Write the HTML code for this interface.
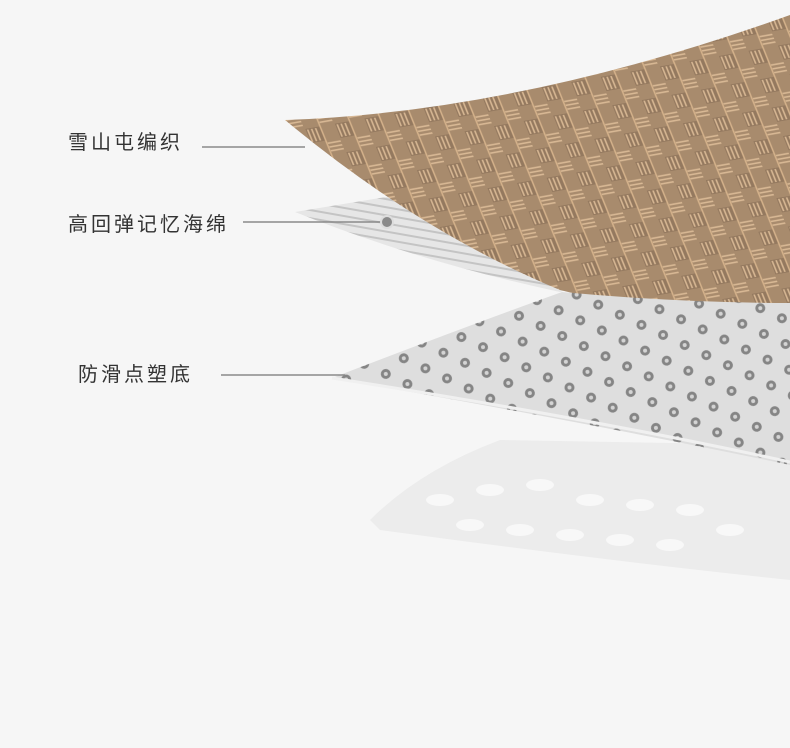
<!DOCTYPE html>
<html><head><meta charset="utf-8"><style>
html,body{margin:0;padding:0;background:#f6f6f6;}
.w{position:relative;width:790px;height:748px;overflow:hidden;background:#f6f6f6;font-family:"Liberation Sans","Noto Sans CJK SC",sans-serif;}
.t{position:absolute;font-size:20px;color:#333;letter-spacing:3px;line-height:24px;}
</style></head><body><div class="w">
<svg width="790" height="748" style="position:absolute;left:0;top:0">
<defs>
<pattern id="br" width="30" height="30" patternUnits="userSpaceOnUse" patternTransform="rotate(-10) skewX(12)">
<rect width="30" height="30" fill="#a88b6d"/>
<rect x="0" y="0" width="15" height="15" fill="#94795f"/>
<g stroke="#d8b894" stroke-width="1.6">
<line x1="2" y1="1" x2="2" y2="14"/><line x1="6" y1="1" x2="6" y2="14"/><line x1="10" y1="1" x2="10" y2="14"/>
<line x1="16" y1="18" x2="29" y2="18"/><line x1="16" y1="22" x2="29" y2="22"/><line x1="16" y1="26" x2="29" y2="26"/>
</g>
<line x1="15" y1="0" x2="15" y2="30" stroke="#d6b38c" stroke-width="1.5"/>
</pattern>
<pattern id="dt" width="40" height="26" patternUnits="userSpaceOnUse" patternTransform="rotate(-8)">
<rect width="40" height="26" fill="#dedede"/>
<circle cx="10" cy="8" r="5" fill="#858585"/><circle cx="10" cy="8" r="2" fill="#d4d4d4"/>
<circle cx="30" cy="21" r="5" fill="#858585"/><circle cx="30" cy="21" r="2" fill="#d4d4d4"/>
</pattern>
<pattern id="fm" width="8" height="8" patternUnits="userSpaceOnUse" patternTransform="rotate(10)">
<rect width="8" height="8" fill="#e6e6e6"/><rect width="8" height="2" fill="#c4c4c4"/>
</pattern>
</defs>
<path d="M370,520 Q420,470 500,440 L790,445 L790,580 Q600,560 380,530 Z" fill="#ececec"/>
<g fill="#f8f8f8">
<ellipse cx="440" cy="500" rx="14" ry="6"/><ellipse cx="490" cy="490" rx="14" ry="6"/><ellipse cx="540" cy="485" rx="14" ry="6"/>
<ellipse cx="590" cy="500" rx="14" ry="6"/><ellipse cx="640" cy="505" rx="14" ry="6"/><ellipse cx="690" cy="510" rx="14" ry="6"/>
<ellipse cx="470" cy="525" rx="14" ry="6"/><ellipse cx="520" cy="530" rx="14" ry="6"/><ellipse cx="570" cy="535" rx="14" ry="6"/>
<ellipse cx="620" cy="540" rx="14" ry="6"/><ellipse cx="670" cy="545" rx="14" ry="6"/><ellipse cx="730" cy="530" rx="14" ry="6"/>
</g>
<path d="M295,212 L392,196 Q500,235 610,275 L560,292 Q420,262 295,212 Z" fill="url(#fm)"/>
<path d="M285,120 Q520,112 790,15 L790,332 Q660,315 560,290 Q420,232 285,120 Z" fill="url(#br)"/>
<path d="M332,378 Q470,325 562,292 Q680,303 790,303 L790,465 Q600,425 332,378 Z" fill="url(#dt)"/>
<path d="M332,378 Q600,420 790,462" stroke="#f0f0f0" stroke-width="3" fill="none"/>
<g stroke="#8a8a8a" stroke-width="1.5">
<line x1="202" y1="147" x2="305" y2="147"/>
<line x1="243" y1="222" x2="385" y2="222"/>
<line x1="221" y1="375" x2="345" y2="375"/>
</g>
<circle cx="387" cy="222" r="6" fill="#8a8a8a" stroke="#ddd" stroke-width="2"/>
</svg>
<div class="t" style="left:68px;top:131px">雪山屯编织</div>
<div class="t" style="left:68px;top:213px">高回弹记忆海绵</div>
<div class="t" style="left:78px;top:363px">防滑点塑底</div>
</div></body></html>
